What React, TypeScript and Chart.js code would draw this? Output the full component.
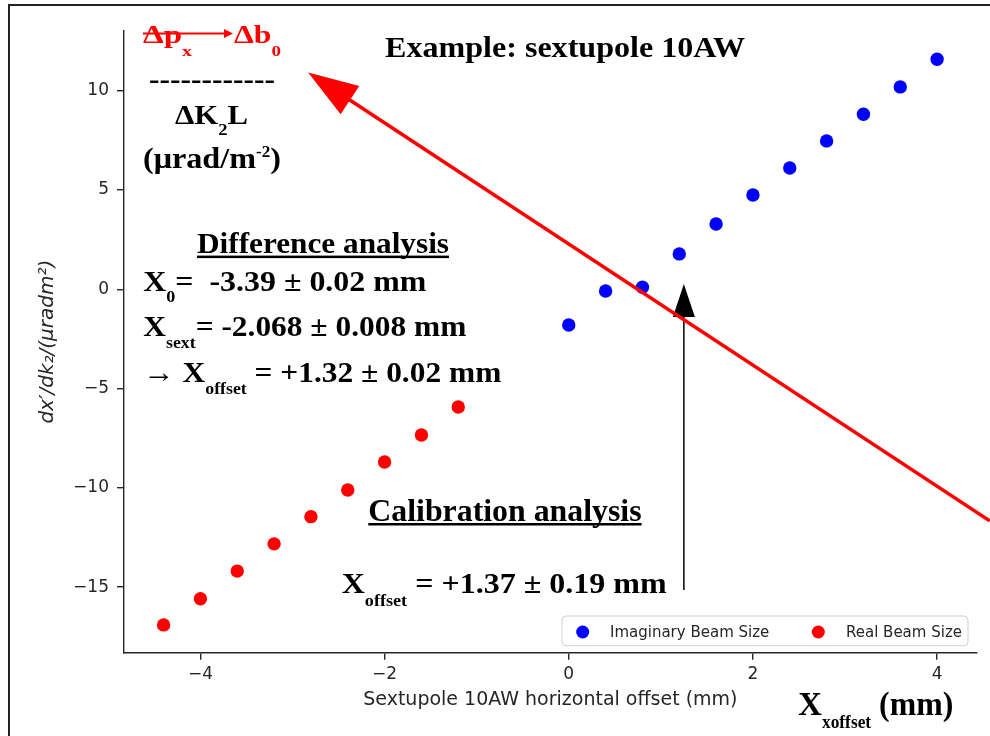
import React, { useEffect, useRef } from "react";
import { Chart, registerables } from "chart.js";

Chart.register(...registerables);

// ---------- data ----------
const imagX = [0, 0.4, 0.8, 1.2, 1.6, 2.0, 2.4, 2.8, 3.2, 3.6, 4.0];
const imagY = [-1.8, -0.09, 0.1, 1.78, 3.29, 4.75, 6.11, 7.47, 8.81, 10.19, 11.58];
const realX = [-4.4, -4.0, -3.6, -3.2, -2.8, -2.4, -2.0, -1.6, -1.2];
const realY = [-16.9, -15.58, -14.19, -12.82, -11.45, -10.11, -8.7, -7.34, -5.93];
const xTicks = [-4, -2, 0, 2, 4];
const yTicks = [-15, -10, -5, 0, 5, 10];
const seriesLabels = ["Imaginary Beam Size", "Real Beam Size"];
const seriesColors = ["#0000ff", "#ff0000"];
const xTitle = "Sextupole 10AW horizontal offset (mm)";
const yTitle = "dx′/dk₂/(μradm²)";

// annotation arrows in data coordinates: [tailX, tailY, tipX, tipY]
const redArrow = [4.571, -11.66, -2.83, 10.91];
const blackArrow = [1.25, -15.14, 1.25, 0.27];

const SERIF = '"Liberation Serif", "Times New Roman", serif';
const SANS = '"DejaVu Sans", sans-serif';
const AXIS = "#262626";

type Seg = { t: string; size: number; dy?: number };

function drawRich(
  ctx: CanvasRenderingContext2D,
  segs: Seg[],
  x: number,
  y: number,
  width: number,
  color: string,
  underline?: { dy: number; lw: number }
) {
  ctx.save();
  ctx.fillStyle = color;
  ctx.textBaseline = "alphabetic";
  ctx.textAlign = "left";
  let natural = 0;
  const ws = segs.map((s) => {
    ctx.font = `bold ${s.size}px ${SERIF}`;
    const w = ctx.measureText(s.t).width;
    natural += w;
    return w;
  });
  const sx = width / natural;
  ctx.translate(x, y);
  ctx.scale(sx, 1);
  let cx = 0;
  segs.forEach((s, i) => {
    ctx.font = `bold ${s.size}px ${SERIF}`;
    ctx.fillText(s.t, cx, s.dy || 0);
    cx += ws[i];
  });
  ctx.restore();
  if (underline) {
    ctx.save();
    ctx.fillStyle = color;
    ctx.fillRect(x, y + underline.dy, width, underline.lw);
    ctx.restore();
  }
}

function drawArrow(
  ctx: CanvasRenderingContext2D,
  x1: number,
  y1: number,
  x2: number,
  y2: number,
  color: string,
  lw: number,
  headLen: number,
  headHalf: number
) {
  const dx = x2 - x1;
  const dy = y2 - y1;
  const len = Math.hypot(dx, dy);
  const ux = dx / len;
  const uy = dy / len;
  const bx = x2 - ux * headLen;
  const by = y2 - uy * headLen;
  ctx.save();
  ctx.strokeStyle = color;
  ctx.fillStyle = color;
  ctx.lineWidth = lw;
  ctx.beginPath();
  ctx.moveTo(x1, y1);
  ctx.lineTo(bx + ux * 2, by + uy * 2);
  ctx.stroke();
  ctx.beginPath();
  ctx.moveTo(x2, y2);
  ctx.lineTo(bx - uy * headHalf, by + ux * headHalf);
  ctx.lineTo(bx + uy * headHalf, by - ux * headHalf);
  ctx.closePath();
  ctx.fill();
  ctx.restore();
}

const fmt = (v: number | string) => {
  const n = Number(v);
  return n < 0 ? "\u2212" + Math.abs(n) : String(n);
};

const annotationPlugin = {
  id: "annotations",
  afterDraw(chart: any) {
    const ctx: CanvasRenderingContext2D = chart.ctx;
    const xs = chart.scales.x;
    const ys = chart.scales.y;

    // outer frame
    ctx.save();
    ctx.strokeStyle = "#222";
    ctx.lineWidth = 2;
    ctx.beginPath();
    ctx.moveTo(9, 740);
    ctx.lineTo(9, 5);
    ctx.lineTo(995, 5);
    ctx.stroke();
    ctx.restore();

    // black arrow
    drawArrow(
      ctx,
      xs.getPixelForValue(blackArrow[0]),
      ys.getPixelForValue(blackArrow[1]),
      xs.getPixelForValue(blackArrow[2]),
      ys.getPixelForValue(blackArrow[3]),
      "#000",
      1.5,
      33,
      11
    );
    // red arrow
    drawArrow(
      ctx,
      xs.getPixelForValue(redArrow[0]),
      ys.getPixelForValue(redArrow[1]),
      xs.getPixelForValue(redArrow[2]),
      ys.getPixelForValue(redArrow[3]),
      "#ff0000",
      3.5,
      50,
      17
    );

    // title
    drawRich(ctx, [{ t: "Example: sextupole 10AW", size: 30 }], 385, 57, 360, "#000");

    // top-left fraction
    drawRich(ctx, [{ t: "Δp", size: 25 }, { t: "x", size: 15, dy: 13 }], 143, 43, 49, "#ff0000");
    drawArrow(ctx, 143, 33.5, 233, 33.5, "#ff0000", 2, 9, 4.5);
    drawRich(ctx, [{ t: "Δb", size: 25 }, { t: "0", size: 15, dy: 13 }], 234, 43, 47, "#ff0000");
    drawRich(ctx, [{ t: "------------", size: 30 }], 149, 89, 126, "#000");
    drawRich(
      ctx,
      [{ t: "ΔK", size: 28 }, { t: "2", size: 17, dy: 11 }, { t: "L", size: 28 }],
      175,
      124,
      73,
      "#000"
    );
    drawRich(
      ctx,
      [{ t: "(μrad/m", size: 30 }, { t: "-2", size: 16, dy: -11 }, { t: ")", size: 30 }],
      143,
      168,
      138,
      "#000"
    );

    // difference analysis
    drawRich(ctx, [{ t: "Difference analysis", size: 30 }], 197, 253.3, 252, "#000", { dy: 2.3, lw: 2.5 });
    drawRich(
      ctx,
      [{ t: "X", size: 30 }, { t: "0", size: 17, dy: 11 }, { t: "=  -3.39 ± 0.02 mm", size: 30 }],
      143.3,
      290.7,
      283,
      "#000"
    );
    drawRich(
      ctx,
      [{ t: "X", size: 30 }, { t: "sext", size: 17, dy: 12 }, { t: "= -2.068 ± 0.008 mm", size: 30 }],
      143.3,
      336,
      323,
      "#000"
    );
    drawRich(
      ctx,
      [{ t: "→ X", size: 30 }, { t: "offset", size: 17, dy: 12 }, { t: " = +1.32 ± 0.02 mm", size: 30 }],
      143.3,
      381.7,
      358,
      "#000"
    );

    // calibration analysis
    drawRich(ctx, [{ t: "Calibration analysis", size: 31 }], 368.3, 520.7, 273.3, "#000", { dy: 2.3, lw: 2.5 });
    drawRich(
      ctx,
      [{ t: "X", size: 30 }, { t: "offset", size: 17, dy: 13 }, { t: " = +1.37 ± 0.19 mm", size: 30 }],
      341.7,
      593.3,
      325,
      "#000"
    );

    // bottom-right axis annotation
    drawRich(
      ctx,
      [{ t: "X", size: 34 }, { t: "xoffset", size: 18, dy: 13 }, { t: " (mm)", size: 33 }],
      798.3,
      715,
      155,
      "#000"
    );

    // legend
    ctx.save();
    const lx = 562,
      ly = 616,
      lw = 406,
      lh = 29.7,
      r = 4;
    ctx.beginPath();
    ctx.moveTo(lx + r, ly);
    ctx.arcTo(lx + lw, ly, lx + lw, ly + lh, r);
    ctx.arcTo(lx + lw, ly + lh, lx, ly + lh, r);
    ctx.arcTo(lx, ly + lh, lx, ly, r);
    ctx.arcTo(lx, ly, lx + lw, ly, r);
    ctx.closePath();
    ctx.fillStyle = "rgba(255,255,255,0.8)";
    ctx.fill();
    ctx.strokeStyle = "#d0d0d0";
    ctx.lineWidth = 1;
    ctx.stroke();
    const items = [
      { dotX: 582.7, textX: 610 },
      { dotX: 818.3, textX: 846 },
    ];
    chart.data.datasets.forEach((ds: any, i: number) => {
      const it = items[i];
      ctx.beginPath();
      ctx.arc(it.dotX, 632, 6.5, 0, Math.PI * 2);
      ctx.fillStyle = ds.backgroundColor;
      ctx.fill();
      ctx.fillStyle = AXIS;
      ctx.font = `15px ${SANS}`;
      ctx.textBaseline = "alphabetic";
      ctx.textAlign = "left";
      ctx.fillText(ds.label, it.textX, 637.3);
    });
    ctx.restore();
  },
};

export default function App() {
  const ref = useRef<HTMLCanvasElement | null>(null);

  useEffect(() => {
    if (!ref.current) return;
    const chart = new Chart(ref.current, {
      type: "scatter",
      data: {
        datasets: [
          {
            label: seriesLabels[0],
            data: imagX.map((x, i) => ({ x, y: imagY[i] })),
            backgroundColor: seriesColors[0],
            borderColor: seriesColors[0],
            pointRadius: 6.7,
            borderWidth: 0,
          },
          {
            label: seriesLabels[1],
            data: realX.map((x, i) => ({ x, y: realY[i] })),
            backgroundColor: seriesColors[1],
            borderColor: seriesColors[1],
            pointRadius: 6.7,
            borderWidth: 0,
          },
        ],
      },
      options: {
        animation: false,
        responsive: false,
        maintainAspectRatio: false,
        layout: { padding: { left: 0, right: 13.3, top: 30.7, bottom: 0 } },
        plugins: {
          legend: { display: false },
          tooltip: { enabled: false },
        },
        scales: {
          x: {
            type: "linear",
            position: "bottom",
            min: -4.83,
            max: 4.43,
            afterBuildTicks: (s: any) => {
              s.ticks = xTicks.map((v) => ({ value: v }));
            },
            afterFit: (s: any) => {
              s.height = 83.3;
            },
            grid: {
              drawOnChartArea: false,
              drawTicks: true,
              tickLength: 7,
              color: AXIS,
              lineWidth: 1.4,
            },
            border: { display: true, color: AXIS, width: 1.4 },
            ticks: {
              color: AXIS,
              font: { family: SANS, size: 17 },
              padding: 5,
              maxRotation: 0,
              autoSkip: false,
              callback: fmt,
            },
            title: {
              display: true,
              text: xTitle,
              color: AXIS,
              font: { family: SANS, size: 19 },
              padding: { top: 0, bottom: 24.2 },
            },
          },
          y: {
            type: "linear",
            position: "left",
            min: -18.3,
            max: 13.02,
            afterBuildTicks: (s: any) => {
              s.ticks = yTicks.map((v) => ({ value: v }));
            },
            afterFit: (s: any) => {
              s.width = 124;
            },
            grid: {
              drawOnChartArea: false,
              drawTicks: true,
              tickLength: 7,
              color: AXIS,
              lineWidth: 1.4,
            },
            border: { display: true, color: AXIS, width: 1.4 },
            ticks: {
              color: AXIS,
              font: { family: SANS, size: 17 },
              padding: 8,
              autoSkip: false,
              callback: fmt,
            },
            title: {
              display: true,
              text: yTitle,
              color: AXIS,
              font: { family: SANS, size: 20, style: "italic" },
              padding: { top: 36, bottom: 0 },
            },
          },
        },
      },
      plugins: [annotationPlugin],
    } as any);
    return () => chart.destroy();
  }, []);

  return (
    <div
      style={{
        position: "absolute",
        left: 0,
        top: 0,
        width: 990,
        height: 736,
        background: "#fff",
        overflow: "hidden",
      }}
    >
      <canvas ref={ref} width={990} height={736} style={{ display: "block", width: 990, height: 736 }} />
    </div>
  );
}
